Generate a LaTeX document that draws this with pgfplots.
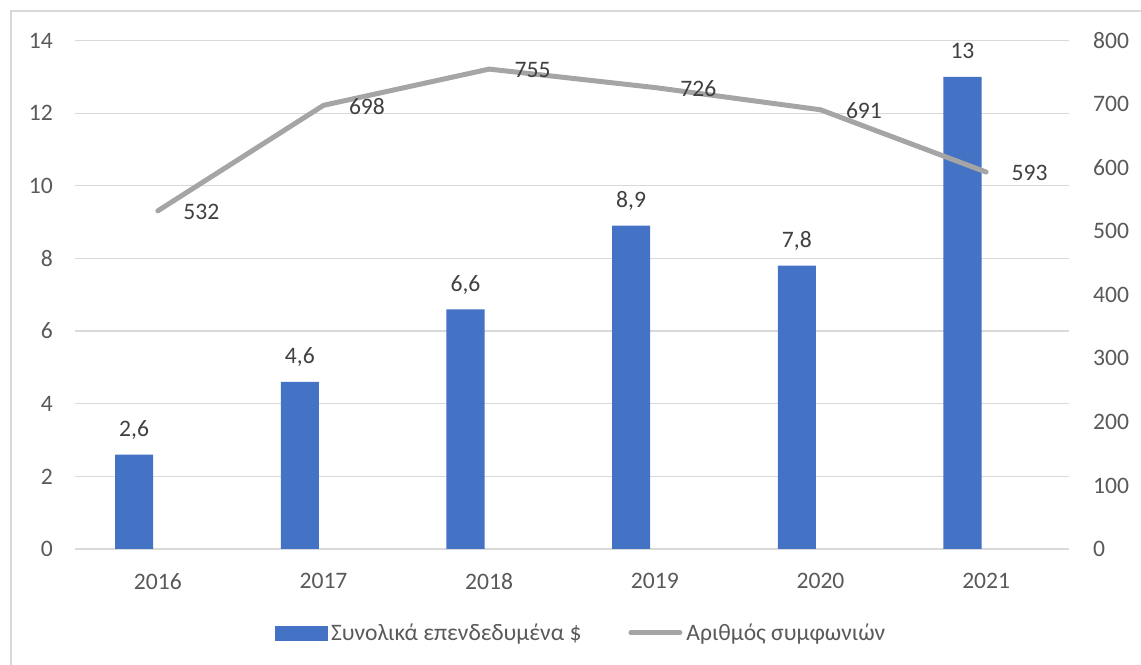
\documentclass[border=0pt]{standalone}
\usepackage{fontspec}
\setmainfont{Carlito}
\usepackage{pgfplots}
\pgfplotsset{compat=1.18}
\usepackage{pgfplotstable}
\definecolor{barblue}{HTML}{4472C4}
\definecolor{linegray}{HTML}{A5A5A5}
\definecolor{gridgray}{HTML}{D9D9D9}
\definecolor{txtgray}{HTML}{595959}
\definecolor{lblgray}{HTML}{404040}
\newcommand\cf{\fontsize{23.6bp}{28bp}\selectfont}

\pgfplotstableread{
x y label
0 2.6 2,6
1 4.6 4,6
2 6.6 6,6
3 8.9 8,9
4 7.8 7,8
5 13 13
}\bardata

\pgfplotstableread{
x y
0 532
1 698
2 755
3 726
4 691
5 593
}\linedata

\pgfplotsset{
  common/.style={scale only axis, width=994bp, height=508.5bp,
    at={(75bp,116bp)}, anchor=south west,
    clip=false,
    axis line style={draw=none}, major tick length=0pt,
    tick label style={font=\cf, text=txtgray, inner sep=0pt},
    /pgf/number format/assume math mode=true},
  barleg/.style={legend image code/.code={\fill[barblue] (0bp,-7bp) rectangle (52bp,7bp);}},
  lineleg/.style={legend image code/.code={\draw[line width=5bp, linegray, line cap=round] (2.5bp,0bp) -- (51.5bp,0bp);}},
}

\begin{document}
\begin{tikzpicture}
\path[use as bounding box] (0,0) rectangle (1141bp,665bp);
\draw[gridgray, line width=1.2bp] (11bp,0bp) -- (11bp,654bp) -- (1141bp,654bp);
% bars: axis shifted so that bars sit left of the category centres
\begin{axis}[common,
  xmin=-0.357, xmax=5.643,
  ymin=0, ymax=14, ytick={0,2,...,14},
  ymajorgrids, grid style={gridgray, line width=1.2bp},
  xtick=\empty,
  yticklabel style={anchor=east, xshift=-22bp},
]
\addplot[ybar, fill=barblue, draw=none, bar width=0.23,
  nodes near coords, point meta=explicit symbolic,
  nodes near coords style={font=\cf, text=lblgray, anchor=base, yshift=18bp, inner sep=0pt}]
  table[x=x, y=y, meta=label] {\bardata};
\end{axis}
\begin{axis}[common,
  xmin=-0.5, xmax=5.5,
  ymin=0, ymax=800, ytick={0,100,...,800},
  yticklabel pos=right,
  yticklabel style={anchor=west, xshift=24bp},
  xtick={0,1,2,3,4,5}, xticklabels={2016,2017,2018,2019,2020,2021},
  xticklabel style={anchor=north, yshift=-24bp},
  legend columns=2, legend cell align=left,
  legend style={at={(0.508,-0.165)}, anchor=center, draw=none, fill=none,
    inner sep=0pt, font=\cf, text=txtgray,
    nodes={inner sep=0pt},
    /tikz/every even column/.append style={column sep=47bp},
    /tikz/every odd column/.append style={column sep=4bp}},
]
\addlegendimage{barleg}
\addlegendentry{Συνολικά επενδεδυμένα \$}
\addplot[linegray, line width=5bp, line cap=round, line join=round, lineleg,
  nodes near coords, point meta=explicit symbolic,
  nodes near coords style={font=\cf, text=lblgray, anchor=west, xshift=23bp, yshift=-1bp, inner sep=0pt}]
  table[x=x, y=y, meta=y] {\linedata};
\addlegendentry{Αριθμός συμφωνιών}
\end{axis}
\end{tikzpicture}
\end{document}
